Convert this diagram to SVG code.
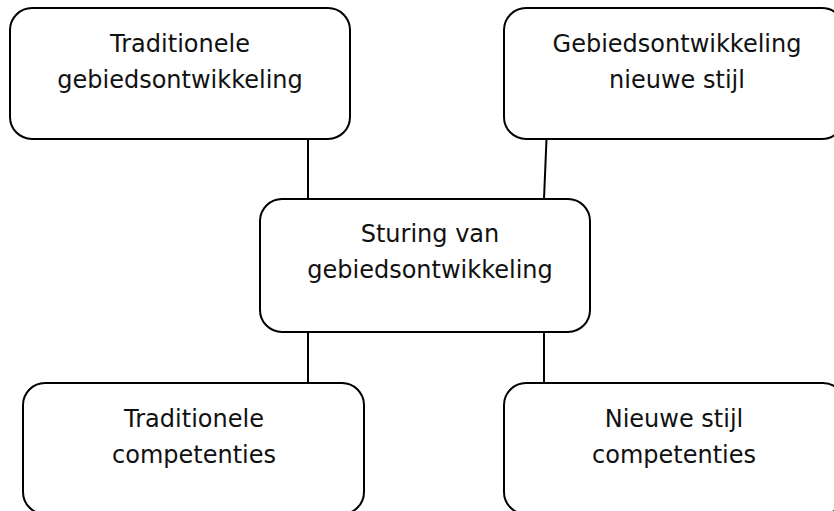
<svg xmlns="http://www.w3.org/2000/svg" width="834" height="511" viewBox="0 0 834 511">
<style>
.box{fill:#fff;stroke:#000;stroke-width:2}
.lbl{font-family:"DejaVu Sans","Liberation Sans",sans-serif;font-size:24px;fill:#111;text-anchor:middle}
.conn{stroke:#000;stroke-width:2;fill:none}
</style>
<rect width="834" height="511" fill="#fff"/>
<g id="connectors">
<line class="conn" x1="308" y1="139" x2="308" y2="199"/>
<line class="conn" x1="546.5" y1="139" x2="544" y2="199"/>
<line class="conn" x1="308" y1="332" x2="308" y2="383"/>
<line class="conn" x1="544" y1="332" x2="544" y2="383"/>
</g>
<g id="node-trad-gebied">
<rect class="box" x="10" y="8" width="340" height="131" rx="22"/>
<text class="lbl" x="180" y="52">Traditionele</text>
<text class="lbl" x="180" y="88">gebiedsontwikkeling</text>
</g>
<g id="node-nieuw-gebied">
<rect class="box" x="504" y="8" width="340" height="131" rx="22"/>
<text class="lbl" x="677" y="52">Gebiedsontwikkeling</text>
<text class="lbl" x="677" y="88">nieuwe stijl</text>
</g>
<g id="node-sturing">
<rect class="box" x="260" y="199" width="330" height="133" rx="22"/>
<text class="lbl" x="430" y="242">Sturing van</text>
<text class="lbl" x="430" y="278">gebiedsontwikkeling</text>
</g>
<g id="node-trad-comp">
<rect class="box" x="23" y="383" width="341" height="131" rx="22"/>
<text class="lbl" x="194" y="427">Traditionele</text>
<text class="lbl" x="194" y="463">competenties</text>
</g>
<g id="node-nieuw-comp">
<rect class="box" x="504" y="383" width="341" height="131" rx="22"/>
<text class="lbl" x="674" y="427">Nieuwe stijl</text>
<text class="lbl" x="674" y="463">competenties</text>
</g>
</svg>
